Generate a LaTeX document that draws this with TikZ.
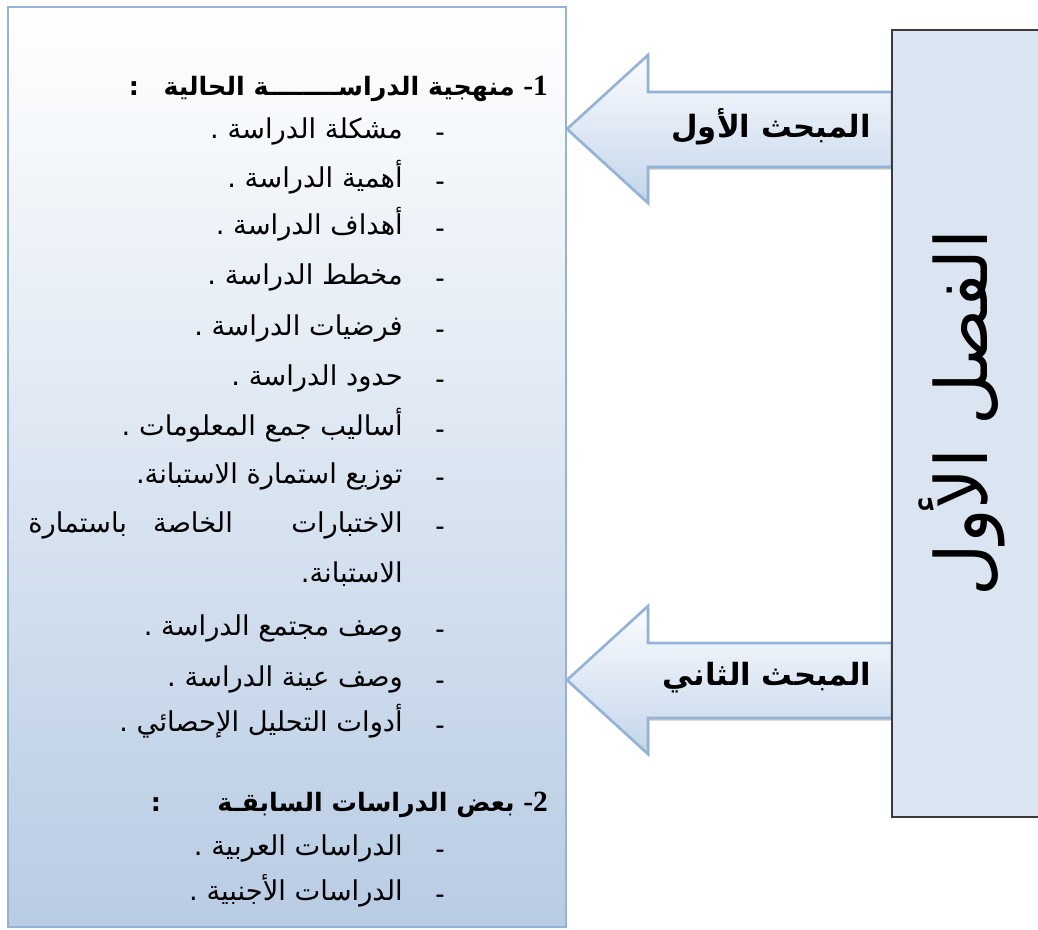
\documentclass[tikz,border=0pt]{standalone}
\usepackage{fontspec}
\setmainfont{Liberation Serif}
\TeXXeTstate=1
\newfontfamily\arabicfont[Script=Arabic]{DejaVu Sans}
\usetikzlibrary{shadows}
\definecolor{edgeblue}{HTML}{95B3D7}
\definecolor{boxbottom}{HTML}{B8CCE4}
\definecolor{arrowtop}{HTML}{FBFCFE}
\definecolor{arrowbot}{HTML}{C3D5EB}
\definecolor{chapfill}{HTML}{DBE5F1}
\definecolor{chapedge}{HTML}{3A3A3A}
\tikzset{
  ar/.style={font=\arabicfont\fontsize{20.5}{24}\selectfont, inner sep=0pt, anchor=base east},
  arb/.style={font=\arabicfont\bfseries\fontsize{19}{23}\selectfont, inner sep=0pt, anchor=base east},
  secfont/.style={font=\arabicfont\bfseries\fontsize{23}{28}\selectfont, inner sep=0pt},
  numfont/.style={font=\bfseries\fontsize{22}{26}\selectfont, inner sep=0pt, anchor=base east},
  bullet/.style={font=\bfseries\fontsize{20}{24}\selectfont, inner sep=0pt, anchor=base},
  blockarrow/.style={draw=edgeblue, line width=2pt, top color=arrowtop, bottom color=arrowbot,
    drop shadow={shadow xshift=1pt, shadow yshift=-2pt, opacity=.35, fill=black!60}},
}
\begin{document}
\begin{tikzpicture}[x=0.75pt,y=-0.75pt]
\useasboundingbox (0,0) rectangle (1038,929);
\clip (0,0) rectangle (1038,929);
% left list box
\coordinate (lbTL) at (8,7);
\coordinate (lbBR) at (566,927);
\path[draw=edgeblue, line width=2pt, top color=white, bottom color=boxbottom] (lbTL) rectangle (lbBR);
% block arrows
\foreach \c in {129,680}{
  \path[blockarrow] (567,\c) -- (648,{\c-74}) -- (648,{\c-37}) -- (892,{\c-37})
     -- (892,{\c+38}) -- (648,{\c+38}) -- (648,{\c+74}) -- cycle;
}
% chapter box
\coordinate (cbTL) at (892,30);
\coordinate (cbBR) at (1060,817);
\path[draw=chapedge, line width=1.3pt, fill=chapfill] (cbTL) rectangle (cbBR);
\node[rotate=90, font=\arabicfont\fontsize{54}{58}\selectfont, inner sep=0pt] (chap) at (962,413) {\beginR الفصل الأول\endR};
% arrow labels
\node[secfont] (sec1) at (771,127) {\beginR المبحث الأول\endR};
\node[secfont] (sec2) at (767,678) {\beginR المبحث الثاني\endR};
% heading 1
\node[numfont] (n1) at (548,95) {-1};
\node[arb] (h1) at (515,95) {\beginR منهجية الدراســــــــة الحالية\endR};
\node[arb, anchor=base] (c1) at (134,95) {:};
% items
\node[ar] (i1) at (403,138) {\beginR مشكلة الدراسة .\endR};
\node[ar] (i2) at (403,187) {\beginR أهمية الدراسة .\endR};
\node[ar] (i3) at (403,234) {\beginR أهداف الدراسة .\endR};
\node[ar] (i4) at (403,284) {\beginR مخطط الدراسة .\endR};
\node[ar] (i5) at (403,335) {\beginR فرضيات الدراسة .\endR};
\node[ar] (i6) at (403,385) {\beginR حدود الدراسة .\endR};
\node[ar] (i7) at (403,435) {\beginR أساليب جمع المعلومات .\endR};
\node[ar] (i8) at (403,483) {\beginR توزيع استمارة الاستبانة.\endR};
\node[ar] (i9a) at (403,532) {\beginR الاختبارات\endR};
\node[ar, anchor=base] (i9b) at (193,532) {\beginR الخاصة\endR};
\node[ar, anchor=base west] (i9c) at (28,532) {\beginR باستمارة\endR};
\node[ar] (i9d) at (403,582) {\beginR الاستبانة.\endR};
\node[ar] (i10) at (403,635) {\beginR وصف مجتمع الدراسة .\endR};
\node[ar] (i11) at (403,686) {\beginR وصف عينة الدراسة .\endR};
\node[ar] (i12) at (403,731) {\beginR أدوات التحليل الإحصائي .\endR};
\foreach \y/\k in {138/1,187/2,234/3,284/4,335/5,385/6,435/7,483/8,532/9,635/10,686/11,731/12}{
  \node[bullet] (d\k) at (440,{\y+2}) {-};
}
% heading 2
\node[numfont] (n2) at (548,811) {-2};
\node[arb] (h2) at (515,811) {\beginR بعض الدراسات السابقـة\endR};
\node[arb, anchor=base] (c2) at (156,811) {:};
\node[ar] (j1) at (403,855) {\beginR الدراسات العربية .\endR};
\node[ar] (j2) at (403,900) {\beginR الدراسات الأجنبية .\endR};
\node[bullet] (e1) at (440,857) {-};
\node[bullet] (e2) at (440,902) {-};
\end{tikzpicture}
\end{document}
